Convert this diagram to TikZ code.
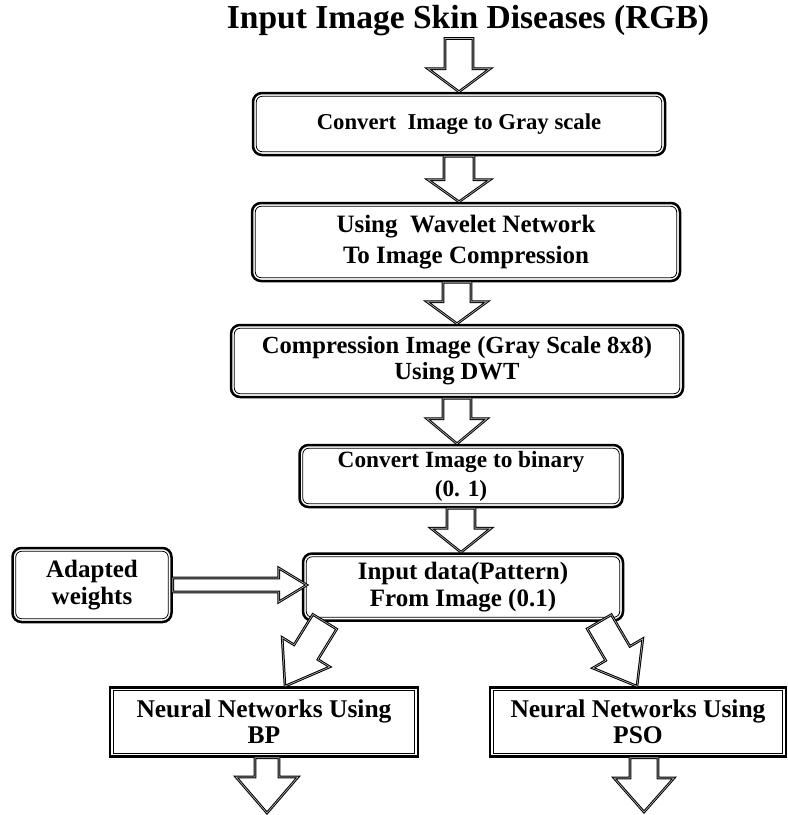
\documentclass[tikz,border=0pt]{standalone}
\usepackage{fontspec}
\setmainfont{Liberation Serif}
\usetikzlibrary{calc}

\tikzset{
  box/.style={draw, line width=2.5pt, rounded corners=9pt, fill=white, inner sep=0pt,
    align=center, font=\fontsize{25}{27}\selectfont\bfseries},
  sqbox/.style={box, rounded corners=0pt},
  innerframe/.style={line width=0.8pt, rounded corners=6pt},
  sqframe/.style={line width=0.8pt},
  blockarrow/.style={draw=black, fill=white, line width=1pt, double=gray!55,
    double distance=0.6pt, line join=miter},
}

% hollow block arrow: shaft half-width, head half-width, head length, from, to
\newcommand\blockarrow[5]{%
  \draw[blockarrow] let \p1=(#4), \p2=(#5),
      \n1={atan2(\y2-\y1,\x2-\x1)}, \n2={veclen(\x2-\x1,\y2-\y1)} in
    [shift={(\p1)}, rotate=\n1]
    (0pt,#1pt) -- ({\n2-#3pt},#1pt) -- ({\n2-#3pt},#2pt) -- (\n2,0pt)
    -- ({\n2-#3pt},-#2pt) -- ({\n2-#3pt},-#1pt) -- (0pt,-#1pt) -- cycle;
}

\begin{document}
\begin{tikzpicture}[x=1pt, y=-1pt]
\useasboundingbox (0,0) rectangle (788,815);

\node[font=\fontsize{33.5}{34}\selectfont\bfseries, inner sep=2pt] (title) at (468,21)
  {Input Image Skin Diseases (RGB)};

\node[box, minimum width=412pt, minimum height=62pt,
  font=\fontsize{22.7}{27}\selectfont\bfseries] (b1) at (459,124)
  {Convert\ \ Image to Gray scale};
\node[box, minimum width=428pt, minimum height=78pt,
  font=\fontsize{25}{31}\selectfont\bfseries] (b2) at (466,242)
  {Using\ \ Wavelet Network\\To Image Compression};
\node[box, minimum width=452pt, minimum height=72pt,
  font=\fontsize{24.6}{26}\selectfont\bfseries] (b3) at (457,361)
  {Compression Image (Gray Scale 8x8)\\Using DWT};
\node[box, minimum width=323pt, minimum height=62pt,
  font=\fontsize{23.3}{29}\selectfont\bfseries] (b4) at (461,476)
  {Convert Image to binary\\(0. 1)};
\node[box, minimum width=320pt, minimum height=67pt] (b5) at (463,587)
  {Input data(Pattern)\\From Image (0.1)};
\node[box, minimum width=159pt, minimum height=74pt] (aw) at (92,585)
  {Adapted\\weights};
\node[sqbox, minimum width=308pt, minimum height=69pt,
  font=\fontsize{25.5}{26}\selectfont\bfseries] (bp) at (264,722)
  {Neural Networks Using\\BP};
\node[sqbox, minimum width=296pt, minimum height=69pt,
  font=\fontsize{25.5}{26}\selectfont\bfseries] (pso) at (638,722)
  {Neural Networks Using\\PSO};

% thin inner line of the double frames
\foreach \n in {b1,b2,b3,b4,b5,aw}
  \draw[innerframe] ([shift={(4.5pt,-4.5pt)}]\n.north west)
    rectangle ([shift={(-4.5pt,4.5pt)}]\n.south east);
\foreach \n in {bp,pso}
  \draw[sqframe] ([shift={(4.5pt,-4.5pt)}]\n.north west)
    rectangle ([shift={(-4.5pt,4.5pt)}]\n.south east);

% open ends of the two output arrows
\coordinate (outbp) at (267,813);
\coordinate (outpso) at (644,812);

% connectors
\blockarrow{14}{31}{23}{b1.north |- title.south}{b1.north}
\blockarrow{15}{31}{22}{b1.south}{b1.south |- b2.north}
\blockarrow{14}{30}{22}{b3.north |- b2.south}{b3.north}
\blockarrow{14}{30}{25}{b3.south}{b3.south |- b4.north}
\blockarrow{14}{30}{24}{b4.south}{b4.south |- b5.north}
\blockarrow{7}{17}{28}{aw.east}{[xshift=5pt]b5.west |- aw.east}
\blockarrow{14}{28}{40}{[xshift=23pt]b5.south west}{[xshift=21pt]bp.north}
\blockarrow{14}{29}{38}{[xshift=-25pt]b5.south east}{[xshift=-1pt]pso.north}
\blockarrow{12}{31}{36}{[xshift=3pt]bp.south}{outbp}
\blockarrow{14}{30}{34}{[xshift=6pt]pso.south}{outpso}
\end{tikzpicture}
\end{document}
